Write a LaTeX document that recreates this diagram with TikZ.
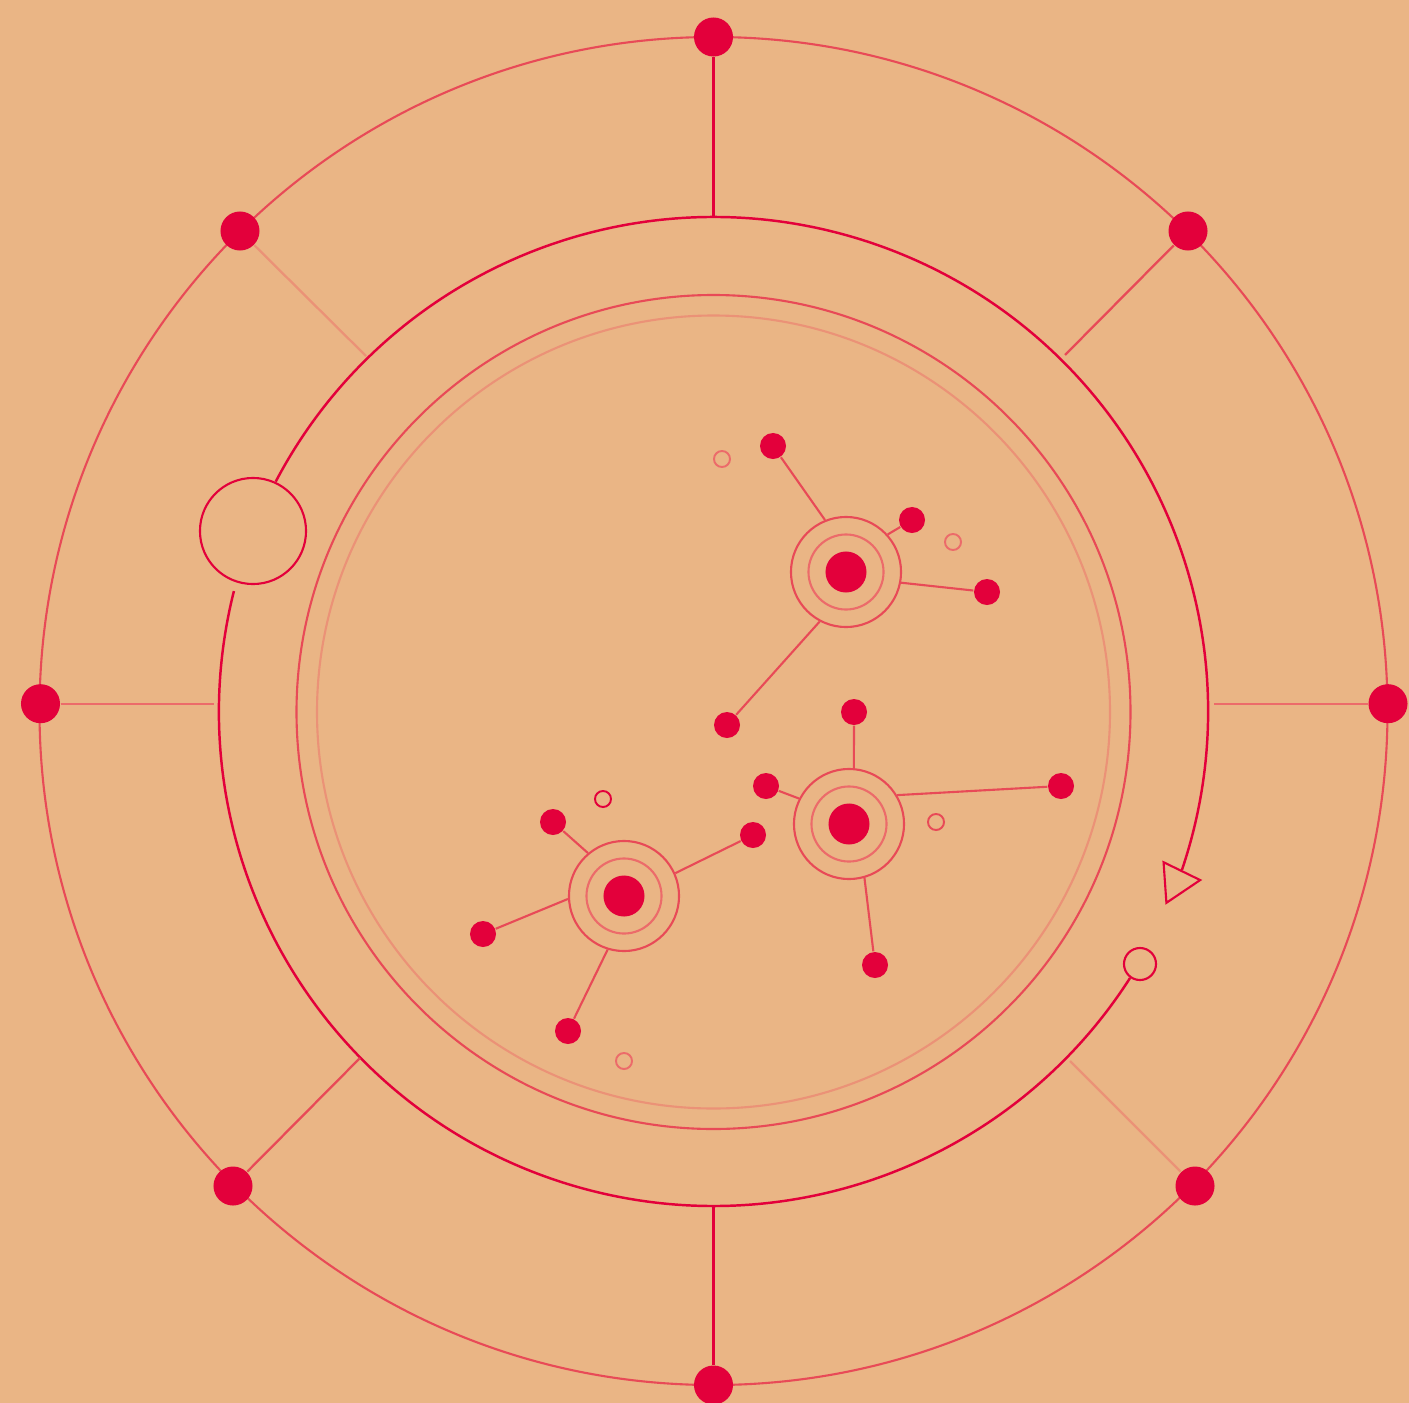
\documentclass[tikz,border=0pt]{standalone}
\usepackage{tikz}
\usetikzlibrary{shapes.geometric}
\definecolor{bgtan}{HTML}{EAB585}
\definecolor{hotred}{HTML}{E3003B}
\definecolor{ringred}{HTML}{E84A57}
\definecolor{softred}{HTML}{EC6B6A}
\definecolor{paleline}{HTML}{EB9277}
\begin{document}
\begin{tikzpicture}[x=0.01cm, y=0.01cm, dot/.style={circle,fill=hotred,inner sep=0pt,minimum size=0.39cm}, atom/.style={circle,fill=hotred,inner sep=0pt,minimum size=0.26cm}, core/.style={circle,fill=hotred,inner sep=0pt,minimum size=0.41cm}, shell/.style={circle,draw=ringred,line width=0.6pt,inner sep=0pt,minimum size=1.10cm}, inshell/.style={circle,draw=softred,line width=0.6pt,inner sep=0pt,minimum size=0.75cm}, bubble/.style={circle,draw=#1,line width=0.55pt,inner sep=0pt,minimum size=0.16cm}, bubble/.default=softred, link/.style={draw=ringred,line width=0.6pt}, spoke/.style={line width=0.65pt}, band/.style={hotred,line width=0.7pt}]
\fill[bgtan] (0,0) rectangle (1409,-1403);
\clip (0,0) rectangle (1409,-1403);
\coordinate (hub) at (713.5,-711.5);
\draw[ringred,line width=0.6pt] (713.5,-711) circle[radius=674];
\draw[ringred,line width=0.6pt] (713.5,-712) circle[radius=417];
\draw[paleline,line width=0.6pt] (713.5,-712) circle[radius=396.5];
\draw[band] (hub) ++(-18.7:494.5) arc[start angle=-18.7,end angle=152.3,radius=494.5];
\draw[band] (hub) ++(165.9:494.5) arc[start angle=165.9,end angle=327.4,radius=494.5];
\node[circle,draw=hotred,line width=0.6pt,inner sep=0pt,minimum size=1.06cm] (gate) at (253,-531) {};
\node[circle,draw=hotred,line width=0.6pt,inner sep=0pt,minimum size=0.32cm] (stop) at (1140,-964) {};
\node[regular polygon,regular polygon sides=3,draw=hotred,line width=0.6pt,inner sep=0pt,minimum size=0.47cm,rotate=-86] (tip) at (1176.7,-881.7) {};
\node[dot] (n) at (713.5,-37) {};
\node[dot] (ne) at (1188,-231) {};
\node[dot] (e) at (1388,-703.7) {};
\node[dot] (se) at (1195,-1186) {};
\node[dot] (s) at (713.5,-1385) {};
\node[dot] (sw) at (233,-1186) {};
\node[dot] (w) at (40.5,-703.7) {};
\node[dot] (nw) at (240,-231) {};
\coordinate (nIn) at (713.5,-217);
\coordinate (neIn) at (1065,-355);
\coordinate (eIn) at (1214,-703.7);
\coordinate (seIn) at (1070,-1061);
\coordinate (sIn) at (713.5,-1206);
\coordinate (swIn) at (360,-1058);
\coordinate (wIn) at (214,-703.7);
\coordinate (nwIn) at (366,-356);
\draw[spoke,hotred] (n) -- (nIn);
\draw[spoke,ringred] (ne) -- (neIn);
\draw[spoke,softred] (e) -- (eIn);
\draw[spoke,paleline] (se) -- (seIn);
\draw[spoke,hotred] (s) -- (sIn);
\draw[spoke,ringred] (sw) -- (swIn);
\draw[spoke,softred] (w) -- (wIn);
\draw[spoke,paleline] (nw) -- (nwIn);
\node[shell] (ca) at (846,-572) {};
\node[inshell] (ca-in) at (ca) {};
\node[core] (ca-core) at (ca) {};
\node[atom] (ca1) at (773,-446) {};
\node[atom] (ca2) at (912,-520) {};
\node[atom] (ca3) at (987,-592) {};
\node[atom] (ca4) at (727,-725) {};
\node[bubble] (cab1) at (722,-459) {};
\node[bubble] (cab2) at (953,-542) {};
\draw[link] (ca.112) -- (ca1);
\draw[link] (ca.42) -- (ca2);
\draw[link] (ca.-11) -- (ca3);
\draw[link] (ca.-118) -- (ca4);
\node[shell] (cb) at (849,-824) {};
\node[inshell] (cb-in) at (cb) {};
\node[core] (cb-core) at (cb) {};
\node[atom] (cb1) at (854,-712) {};
\node[atom] (cb2) at (766,-786) {};
\node[atom] (cb3) at (1061,-786) {};
\node[atom] (cb4) at (875,-965) {};
\node[bubble=ringred] (cbb1) at (936,-822) {};
\draw[link] (cb.85) -- (cb1);
\draw[link] (cb.153) -- (cb2);
\draw[link] (cb.31) -- (cb3);
\draw[link] (cb.-74) -- (cb4);
\node[shell] (cc) at (624,-896) {};
\node[inshell] (cc-in) at (cc) {};
\node[core] (cc-core) at (cc) {};
\node[atom] (cc1) at (553,-822) {};
\node[atom] (cc2) at (753,-835) {};
\node[atom] (cc3) at (483,-934) {};
\node[atom] (cc4) at (568,-1031) {};
\node[bubble=hotred] (ccb1) at (603,-799) {};
\node[bubble] (ccb2) at (624,-1061) {};
\draw[link] (cc.130) -- (cc1);
\draw[link] (cc.24) -- (cc2);
\draw[link] (cc.183) -- (cc3);
\draw[link] (cc.-107) -- (cc4);
\end{tikzpicture}
\end{document}
